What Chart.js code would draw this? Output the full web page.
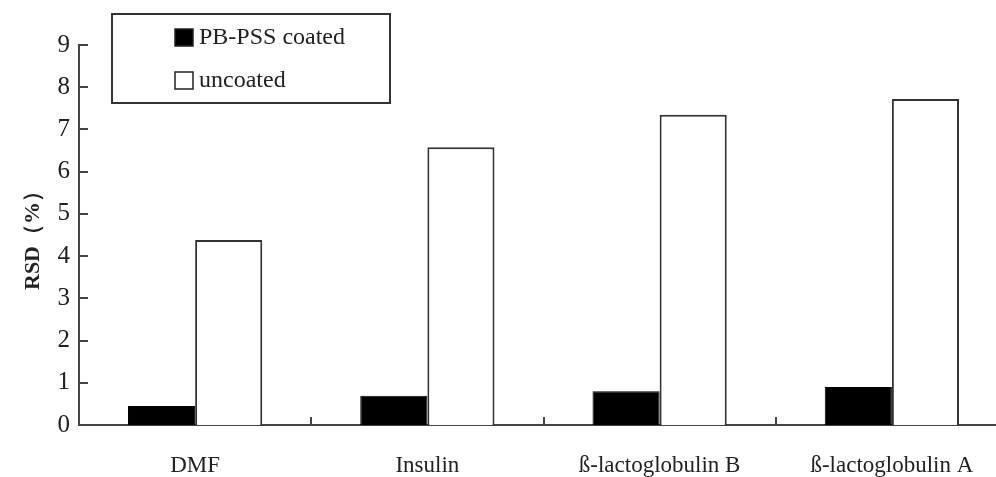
<!DOCTYPE html>
<html>
<head>
<meta charset="utf-8">
<script src="https://cdn.jsdelivr.net/npm/chart.js@4.4.1/dist/chart.umd.min.js"></script>
<style>
  body { margin: 0; overflow: hidden; background: #fff; }
  #wrap { position: relative; width: 1012px; height: 477px; }
</style>
</head>
<body>
<div id="wrap"><canvas id="rsdChart"></canvas></div>
<script>
  // RSD of migration time, coated vs uncoated capillary
  const categories = ['DMF', 'Insulin', 'ß-lactoglobulin B', 'ß-lactoglobulin A'];
  const coated = [0.45, 0.69, 0.80, 0.90];
  const uncoated = [4.38, 6.58, 7.35, 7.72];
  const seriesNames = ['PB-PSS coated', 'uncoated'];
  const yMin = 0, yMax = 9, yStep = 1;

  const serif = '"Liberation Serif", "DejaVu Serif", serif';
  const ink = '#222';

  // small inward tick marks, like the original figure
  const innerTicks = {
    id: 'innerTicks',
    afterDatasetsDraw(chart) {
      const { ctx, chartArea, scales } = chart;
      ctx.save();
      ctx.strokeStyle = '#444';
      ctx.lineWidth = 2;
      ctx.beginPath();
      for (let v = yMin; v <= yMax; v += yStep) {
        const y = Math.round(scales.y.getPixelForValue(v));
        ctx.moveTo(chartArea.left, y);
        ctx.lineTo(chartArea.left + 9, y);
      }
      for (let i = 1; i < categories.length; i++) {
        const x = Math.round(scales.x.getPixelForValue(i - 0.5));
        ctx.moveTo(x, chartArea.bottom);
        ctx.lineTo(x, chartArea.bottom - 8);
      }
      ctx.stroke();
      ctx.restore();
    }
  };

  // boxed legend in the top-left corner
  const boxLegend = {
    id: 'boxLegend',
    afterDraw(chart) {
      const ctx = chart.ctx;
      ctx.save();
      ctx.strokeStyle = '#333';
      ctx.lineWidth = 2;
      ctx.fillStyle = '#fff';
      ctx.fillRect(112, 14, 278, 89);
      ctx.strokeRect(112, 14, 278, 89);
      ctx.font = '24px ' + serif;
      ctx.textBaseline = 'middle';
      chart.data.datasets.forEach((ds, i) => {
        const cy = 38 + i * 43;
        ctx.fillStyle = ds.backgroundColor;
        ctx.fillRect(175, cy - 9, 18, 17);
        ctx.lineWidth = 1.5;
        ctx.strokeStyle = '#222';
        ctx.strokeRect(175, cy - 9, 18, 17);
        ctx.fillStyle = ink;
        ctx.fillText(ds.label, 199, cy);
      });
      ctx.restore();
    }
  };

  const ctx = document.getElementById('rsdChart').getContext('2d');
  const rsdChart = new Chart(ctx, {
    type: 'bar',
    data: {
      labels: categories,
      datasets: [{
        label: seriesNames[0],
        data: coated,
        backgroundColor: '#000',
        borderColor: '#000',
        borderWidth: 1
      }, {
        label: seriesNames[1],
        data: uncoated,
        backgroundColor: '#fff',
        borderColor: '#333',
        borderWidth: 2
      }]
    },
    options: {
      responsive: true,
      maintainAspectRatio: false,
      animation: false,
      layout: { padding: { top: 45, right: 4, left: 0, bottom: 0 } },
      datasets: { bar: { barPercentage: 1, categoryPercentage: 0.578 } },
      plugins: {
        legend: { display: false },
        tooltip: { enabled: false }
      },
      scales: {
        x: {
          offset: true,
          grid: { display: false, drawTicks: false },
          border: { display: true, color: '#444', width: 2 },
          ticks: { color: ink, padding: 27, font: { family: serif, size: 23 } },
          afterFit(scale) { scale.height = 52; }
        },
        y: {
          min: yMin,
          max: yMax,
          grid: { display: false, drawTicks: false },
          border: { display: true, color: '#444', width: 2 },
          ticks: { stepSize: yStep, color: ink, padding: 9, font: { family: serif, size: 25 } },
          title: {
            display: true,
            text: 'RSD（%）',
            color: ink,
            font: { family: serif, size: 22, weight: 'bold' },
            padding: { top: 20, bottom: 0 }
          },
          afterFit(scale) { scale.width = 79; }
        }
      }
    },
    plugins: [innerTicks, boxLegend]
  });
</script>
</body>
</html>
